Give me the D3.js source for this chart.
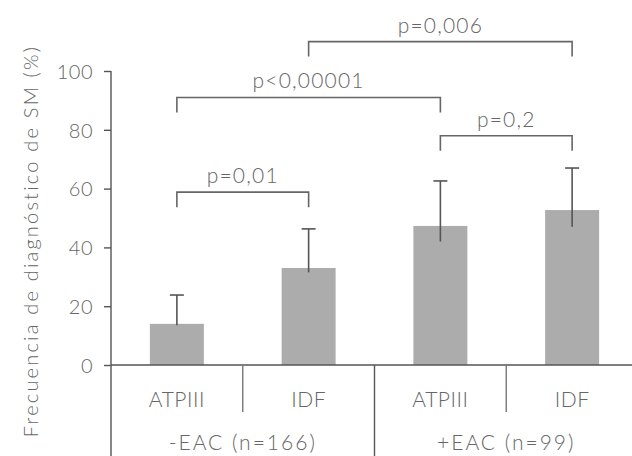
<!DOCTYPE html>
<html>
<head>
<meta charset="utf-8">
<script src="https://cdn.jsdelivr.net/npm/d3@7"></script>
<style>
  body { margin: 0; background: #fff; }
  text { font-family: Lato, "Open Sans", sans-serif; font-weight: 300; fill: #666; }
</style>
</head>
<body>
<svg id="chart" width="632" height="456"></svg>
<script>
// datos
const categories = ["ATPIII", "IDF", "ATPIII", "IDF"];
const groups = ["-EAC (n=166)", "+EAC (n=99)"];
const values = [14, 33, 47.3, 52.7];
const errUpper = [23.8, 46.3, 62.6, 67];
const errLower = [13.5, 31.5, 42, 47];
const yTicks = [0, 20, 40, 60, 80, 100];

// comparaciones: índice de barra a, índice b, altura (%), etiqueta
const pFrom = [0, 0, 1, 2];
const pTo = [1, 2, 3, 3];
const pLevel = [58.8, 91, 110, 78];
const pLabels = ["p=0,01", "p<0,00001", "p=0,006", "p=0,2"];

const width = 632;
const height = 456;
const margin = { top: 20, right: 0, bottom: 91, left: 111 };

const svg = d3.select("#chart");

const x = d3
  .scaleBand()
  .domain(d3.range(categories.length))
  .range([margin.left, 638])
  .paddingInner(0.59)
  .paddingOuter(0.295);

const step = x.step();
const cx = (i) => margin.left + step * (i + 0.5);

const y = d3.scaleLinear().domain([0, 100]).range([365, 71]);

// eje y
const yAxis = (g) =>
  g
    .attr("transform", `translate(${margin.left},0)`)
    .call(d3.axisLeft(y).tickValues(yTicks).tickSize(7).tickPadding(11))
    .call((g) => g.select(".domain").remove())
    .call((g) => g.selectAll(".tick line").attr("stroke", "#555").attr("stroke-width", 1.4))
    .call((g) =>
      g.selectAll(".tick text")
        .style("font-size", "20px")
        .style("font-family", "Lato, sans-serif")
        .style("letter-spacing", "0.5px")
        .attr("dy", "0.36em")
        .attr("fill", "#666")
    );

svg.append("g").call(yAxis);

// línea vertical del eje, continúa por la tabla de categorías
svg.append("line")
  .attr("x1", margin.left).attr("x2", margin.left)
  .attr("y1", y(100)).attr("y2", height)
  .attr("stroke", "#555").attr("stroke-width", 1.4);

// barras
svg.append("g")
  .selectAll("rect")
  .data(values)
  .join("rect")
  .attr("x", (d, i) => cx(i) - 27)
  .attr("width", 54)
  .attr("y", (d) => y(d))
  .attr("height", (d) => y(0) - y(d))
  .attr("fill", "#acacac");

// barras de error
const err = svg.append("g").attr("stroke", "#555").attr("stroke-width", 1.6);
err.selectAll(".whisker")
  .data(values)
  .join("line")
  .attr("x1", (d, i) => cx(i)).attr("x2", (d, i) => cx(i))
  .attr("y1", (d, i) => y(errUpper[i]))
  .attr("y2", (d, i) => y(errLower[i]));
err.selectAll(".cap")
  .data(values)
  .join("line")
  .attr("x1", (d, i) => cx(i) - 7).attr("x2", (d, i) => cx(i) + 7)
  .attr("y1", (d, i) => y(errUpper[i]))
  .attr("y2", (d, i) => y(errUpper[i]));

// eje x
svg.append("line")
  .attr("x1", margin.left).attr("x2", width)
  .attr("y1", y(0)).attr("y2", y(0))
  .attr("stroke", "#555").attr("stroke-width", 1.4);

// separadores entre categorías y grupos
const seps = [1, 2, 3];
svg.append("g")
  .selectAll("line")
  .data(seps)
  .join("line")
  .attr("x1", (d) => margin.left + step * d)
  .attr("x2", (d) => margin.left + step * d)
  .attr("y1", y(0))
  .attr("y2", (d) => (d === 2 ? height : 412))
  .attr("stroke", (d) => (d === 2 ? "#555" : "#777"))
  .attr("stroke-width", 1.4);

// etiquetas de categoría
svg.append("g")
  .selectAll("text")
  .data(categories)
  .join("text")
  .attr("x", (d, i) => cx(i))
  .attr("y", 407)
  .attr("text-anchor", "middle")
  .style("font-size", "21px")
  .style("letter-spacing", "0.5px")
  .text((d) => d);

// etiquetas de grupo
svg.append("g")
  .selectAll("text")
  .data(groups)
  .join("text")
  .attr("x", (d, i) => (cx(i * 2) + cx(i * 2 + 1)) / 2)
  .attr("y", 450)
  .attr("text-anchor", "middle")
  .style("font-size", "21px")
  .style("letter-spacing", "2px")
  .text((d) => d);

// corchetes de significación
const br = svg.append("g");
pLabels.forEach((label, k) => {
  const x1 = cx(pFrom[k]);
  const x2 = cx(pTo[k]);
  const yy = y(pLevel[k]);
  br.append("path")
    .attr("d", `M${x1},${yy + 15}V${yy}H${x2}V${yy + 15}`)
    .attr("fill", "none")
    .attr("stroke", "#666")
    .attr("stroke-width", 1.6);
  br.append("text")
    .attr("x", (x1 + x2) / 2)
    .attr("y", yy - 9)
    .attr("text-anchor", "middle")
    .style("font-size", "21px")
    .style("letter-spacing", "1.2px")
    .text(label);
});

// título del eje y
svg.append("text")
  .attr("transform", `translate(38,${241}) rotate(-90)`)
  .attr("text-anchor", "middle")
  .style("font-size", "20px")
  .style("letter-spacing", "2.2px")
  .text("Frecuencia de diagnóstico de SM (%)");
</script>
</body>
</html>
